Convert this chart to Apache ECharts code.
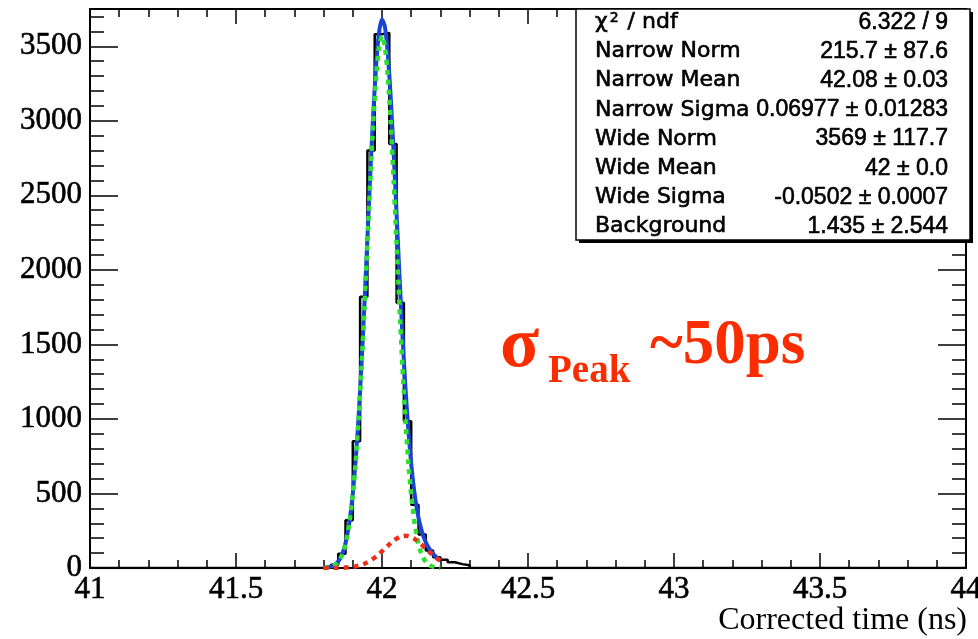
<!DOCTYPE html>
<html>
<head>
<meta charset="utf-8">
<title>Corrected time fit</title>
<script src="https://cdn.jsdelivr.net/npm/echarts@6/dist/echarts.min.js"></script>
<style>
  html, body { margin: 0; padding: 0; background: #fff; }
  #chart { width: 978px; height: 639px; }
</style>
</head>
<body>
<div id="chart"></div>
<script>
// Histogram of corrected time: left bin edges (ns) and counts per 0.025 ns bin
const binEdges = [41.800, 41.825, 41.850, 41.875, 41.900, 41.925, 41.950, 41.975, 42.000, 42.025,
                  42.050, 42.075, 42.100, 42.125, 42.150, 42.175, 42.200, 42.225, 42.250, 42.275, 42.300];
const binCounts = [4, 22, 95, 320, 850, 1820, 2800, 3580, 3590, 2845,
                   1780, 985, 425, 225, 118, 72, 55, 38, 26, 18];

// Sample points (ns) where the fitted curves are drawn
const timeGrid = [41.80, 41.81, 41.82, 41.83, 41.84, 41.85, 41.86, 41.87, 41.88, 41.89,
                  41.90, 41.91, 41.92, 41.93, 41.94, 41.95, 41.96, 41.97, 41.98, 41.99,
                  42.00, 42.01, 42.02, 42.03, 42.04, 42.05, 42.06, 42.07, 42.08, 42.09,
                  42.10, 42.11, 42.12, 42.13, 42.14, 42.15, 42.16, 42.17, 42.18, 42.19, 42.20];

// Total fit (blue)
const totalFit = [2.8, 4.4, 7.4, 13.3, 24.0, 43.3, 75.9, 128.7, 209.9, 329.7,
                  500.1, 727.5, 1019, 1373, 1777, 2212, 2649, 3049, 3376, 3594,
                  3682, 3631, 3447, 3153, 2782, 2371, 1955, 1565, 1219, 930,
                  699, 521, 389, 293, 223, 173, 135, 107, 84, 66, 52];

// Main gaussian component (green dotted)
const wideComp = [1.3, 2.8, 5.8, 11.5, 22, 41, 73, 125, 205, 323,
                  491, 715, 1002, 1350, 1747, 2173, 2598, 2985, 3297, 3499,
                  3569, 3499, 3297, 2985, 2598, 2173, 1747, 1350, 1002, 715,
                  491, 323, 205, 125, 73, 41, 22, 11.5, 5.8, 2.8, 1.3];

// Small gaussian component (red dotted)
const narrowComp = [0.07, 0.12, 0.2, 0.35, 0.6, 0.9, 1.5, 2.3, 3.5, 5.3,
                    7.7, 11.1, 15.6, 21.4, 28.8, 38.0, 49.2, 62.2, 77.2, 93.9,
                    111.8, 130.4, 149.0, 166.9, 183.0, 196.7, 207.0, 213.5, 215.7, 213.5,
                    207.0, 196.7, 183.0, 166.9, 149.0, 130.4, 111.8, 93.9, 77.2, 62.2, 49.2];

// Fit statistics box rows
const statNames = ['Narrow Norm', 'Narrow Mean', 'Narrow Sigma', 'Wide Norm', 'Wide Mean', 'Wide Sigma', 'Background'];
const statValues = ['6.322 / 9', '215.7 \u00b1 87.6', '42.08 \u00b1 0.03', '0.06977 \u00b1 0.01283',
                    '3569 \u00b1 117.7', '42 \u00b1 0.0', '-0.0502 \u00b1 0.0007', '1.435 \u00b1 2.544'];

const X_MIN = 41, X_MAX = 44, Y_MIN = 0, Y_MAX = 3750;

// Step outline of the histogram, closed to the baseline over the full axis range
const histData = [[X_MIN, 0]];
binCounts.forEach((c, i) => histData.push([binEdges[i], c]));
histData.push([binEdges[binEdges.length - 1], 0]);
histData.push([X_MAX, 0]);

const pair = arr => timeGrid.map((t, i) => [t, arr[i]]);

const serifLabel = {
  color: '#000', fontFamily: 'Liberation Serif', fontSize: 31,
  textBorderColor: '#000', textBorderWidth: 0.6
};
const blackLine = { color: '#000', width: 2 };
const tickLine = { color: '#000', width: 1.5 };

function xAxisDef(position, withLabels) {
  return {
    type: 'value', position: position, min: X_MIN, max: X_MAX, interval: 0.5,
    axisLine: { show: true, onZero: false, lineStyle: blackLine },
    axisTick: { show: true, inside: true, length: 15, lineStyle: tickLine },
    minorTick: { show: true, splitNumber: 5, length: 8, lineStyle: tickLine },
    splitLine: { show: false }, minorSplitLine: { show: false },
    axisLabel: withLabels ? Object.assign({ margin: 6, formatter: v => String(v) }, serifLabel) : { show: false }
  };
}

function yAxisDef(position, interval, tickLen, withLine, withLabels) {
  return {
    type: 'value', position: position, min: Y_MIN, max: Y_MAX, interval: interval,
    alignTicks: false,
    axisLine: { show: withLine, onZero: false, lineStyle: blackLine },
    axisTick: { show: true, inside: true, length: tickLen, lineStyle: tickLine },
    splitLine: { show: false },
    axisLabel: withLabels
      ? Object.assign({ margin: 8, showMaxLabel: false, formatter: v => String(v) }, serifLabel)
      : { show: false }
  };
}

// Stats box geometry
const BOX = { x: 576, y: 9, w: 394, h: 231 };
const ROW0 = 22.3, ROW_STEP = 29.2;
const statText = { fill: '#000', stroke: '#000', lineWidth: 0.6 };
const statGraphics = [
  { type: 'rect', shape: { x: BOX.x + 3, y: BOX.y + 3, width: BOX.w, height: BOX.h },
    style: { fill: '#000' }, z: 100 },
  { type: 'rect', shape: { x: BOX.x, y: BOX.y, width: BOX.w, height: BOX.h },
    style: { fill: '#fff', stroke: '#000', lineWidth: 1.5 }, z: 101 },
  { type: 'text', x: 595, y: ROW0, z: 102,
    style: {
      text: '{c|\u03c7}{s|2}{c| / ndf}', verticalAlign: 'middle', align: 'left',
      rich: {
        c: Object.assign({ fontFamily: 'DejaVu Sans', fontSize: 22, verticalAlign: 'bottom' }, statText),
        s: Object.assign({ fontFamily: 'DejaVu Sans', fontSize: 14, verticalAlign: 'top', padding: [0, 2, 0, 2] }, statText)
      }
    } }
];
statNames.forEach((name, i) => {
  statGraphics.push({ type: 'text', x: 595, y: ROW0 + ROW_STEP * (i + 1), z: 102,
    style: Object.assign({ text: name, fontFamily: 'DejaVu Sans', fontSize: 22, align: 'left', verticalAlign: 'middle' }, statText) });
});
statValues.forEach((val, i) => {
  statGraphics.push({ type: 'text', x: 948, y: ROW0 + ROW_STEP * i, z: 102,
    style: Object.assign({ text: val, fontFamily: 'Liberation Sans', fontSize: 23, align: 'right', verticalAlign: 'middle' }, statText) });
});

// Axis title under the right end of the time axis
const titleGraphics = [
  { type: 'text', x: 967, y: 621, z: 50,
    style: { text: 'Corrected time (ns)', fontFamily: 'Liberation Serif', fontSize: 32, fill: '#000',
             align: 'right', verticalAlign: 'middle' } }
];

// Resolution annotation
const red = '#fa2c00';
const noteGraphics = [
  { type: 'text', x: 500, y: 347, z: 50,
    style: { text: '\u03c3', fontFamily: 'Liberation Serif', fontWeight: 'bold', fontSize: 72, fill: red, align: 'left', verticalAlign: 'middle' } },
  { type: 'text', x: 548, y: 372, z: 50,
    style: { text: 'Peak', fontFamily: 'Liberation Serif', fontWeight: 'bold', fontSize: 39, fill: red, align: 'left', verticalAlign: 'middle' } },
  { type: 'text', x: 650, y: 347, z: 50,
    style: { text: '~50ps', fontFamily: 'Liberation Serif', fontWeight: 'bold', fontSize: 63, fill: red, align: 'left', verticalAlign: 'middle' } }
];

const chart = echarts.init(document.getElementById('chart'), null, { renderer: 'canvas' });
chart.setOption({
  animation: false,
  backgroundColor: '#fff',
  grid: { left: 90, right: 12, top: 9, bottom: 71, containLabel: false, outerBoundsMode: 'none' },
  xAxis: [xAxisDef('bottom', true), xAxisDef('top', false)],
  yAxis: [
    yAxisDef('left', 500, 28, true, true),
    yAxisDef('left', 100, 14, false, false),
    yAxisDef('right', 500, 28, true, false),
    yAxisDef('right', 100, 14, false, false)
  ],
  series: [
    { name: 'Data', type: 'line', step: 'end', data: histData, symbol: 'none',
      lineStyle: { color: '#000', width: 2.5 }, z: 2 },
    { name: 'Total fit', type: 'line', data: pair(totalFit), symbol: 'none', smooth: 0.2,
      lineStyle: { color: '#1a44d8', width: 4 }, z: 3 },
    { name: 'Main peak', type: 'line', data: pair(wideComp), symbol: 'none', smooth: 0.2,
      lineStyle: { color: '#2ee02e', width: 4.5, type: [5, 5], cap: 'butt' }, z: 4 },
    { name: 'Second peak', type: 'line', data: pair(narrowComp), symbol: 'none', smooth: 0.2,
      lineStyle: { color: '#e8301c', width: 4.5, type: [5, 5], cap: 'butt' }, z: 5 }
  ],
  graphic: statGraphics.concat(titleGraphics, noteGraphics)
});
</script>
</body>
</html>
